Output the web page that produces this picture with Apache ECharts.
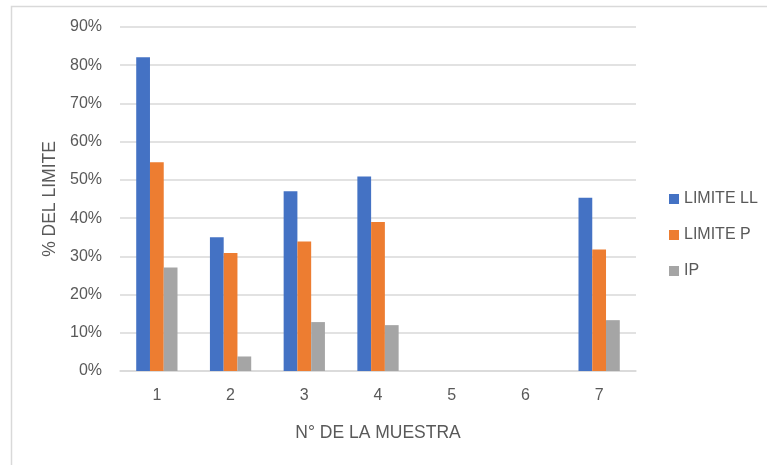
<!DOCTYPE html>
<html>
<head>
<meta charset="utf-8">
<script src="https://cdn.jsdelivr.net/npm/echarts@6/dist/echarts.min.js"></script>
<style>
html,body{margin:0;padding:0;background:#fff;}
#chart{width:767px;height:465px;}
</style>
</head>
<body>
<div id="chart"></div>
<script>
const categories = ['1','2','3','4','5','6','7'];
const limiteLL = [82.1, 35.0, 47.0, 50.9, null, null, 45.3];
const limiteP  = [54.6, 30.9, 33.9, 39.0, null, null, 31.8];
const ip       = [27.1, 3.8, 12.8, 12.0, null, null, 13.3];
const yTicks = [0,10,20,30,40,50,60,70,80,90];

const FONT = 'Liberation Sans';
const TXT = '#595959';
const chart = echarts.init(document.getElementById('chart'));
chart.setOption({
  animation: false,
  textStyle: {fontFamily: FONT},
  graphic: [{
    type: 'rect', left: 9, top: 4, silent: true,
    shape: {width: 800, height: 500},
    style: {fill: 'none', stroke: '#d9d9d9', lineWidth: 1.5}
  }],
  grid: {left: 120, right: 131, top: 27, bottom: 94, containLabel: false},
  legend: {
    orient: 'vertical', left: 664, top: 186,
    itemWidth: 10, itemHeight: 10, itemGap: 20, icon: 'rect',
    textStyle: {color: TXT, fontSize: 16, fontFamily: FONT},
    data: ['LIMITE LL','LIMITE P','IP']
  },
  xAxis: {
    type: 'category', data: categories,
    name: 'N° DE LA MUESTRA', nameLocation: 'middle', nameGap: 53,
    nameTextStyle: {color: TXT, fontSize: 17.5, fontFamily: FONT},
    axisLine: {lineStyle: {color: '#d9d9d9', width: 1.5}},
    axisTick: {show: false},
    axisLabel: {color: TXT, fontSize: 16, margin: 17, fontFamily: FONT}
  },
  yAxis: {
    type: 'value', min: yTicks[0], max: yTicks[yTicks.length-1], interval: 10,
    name: '% DEL LIMITE', nameLocation: 'middle', nameGap: 61, nameRotate: 90,
    nameTextStyle: {color: TXT, fontSize: 17.5, fontFamily: FONT},
    axisLine: {show: false}, axisTick: {show: false},
    axisLabel: {color: TXT, fontSize: 16, margin: 18, formatter: '{value}%', fontFamily: FONT},
    splitLine: {lineStyle: {color: '#d9d9d9', width: 1.5}}
  },
  series: [
    {name: 'LIMITE LL', type: 'bar', data: limiteLL, itemStyle: {color: '#4472C4'}, barGap: '0%', barCategoryGap: '44%'},
    {name: 'LIMITE P', type: 'bar', data: limiteP, itemStyle: {color: '#ED7D31'}, barGap: '0%', barCategoryGap: '44%'},
    {name: 'IP', type: 'bar', data: ip, itemStyle: {color: '#A5A5A5'}, barGap: '0%', barCategoryGap: '44%'}
  ]
});
</script>
</body>
</html>
